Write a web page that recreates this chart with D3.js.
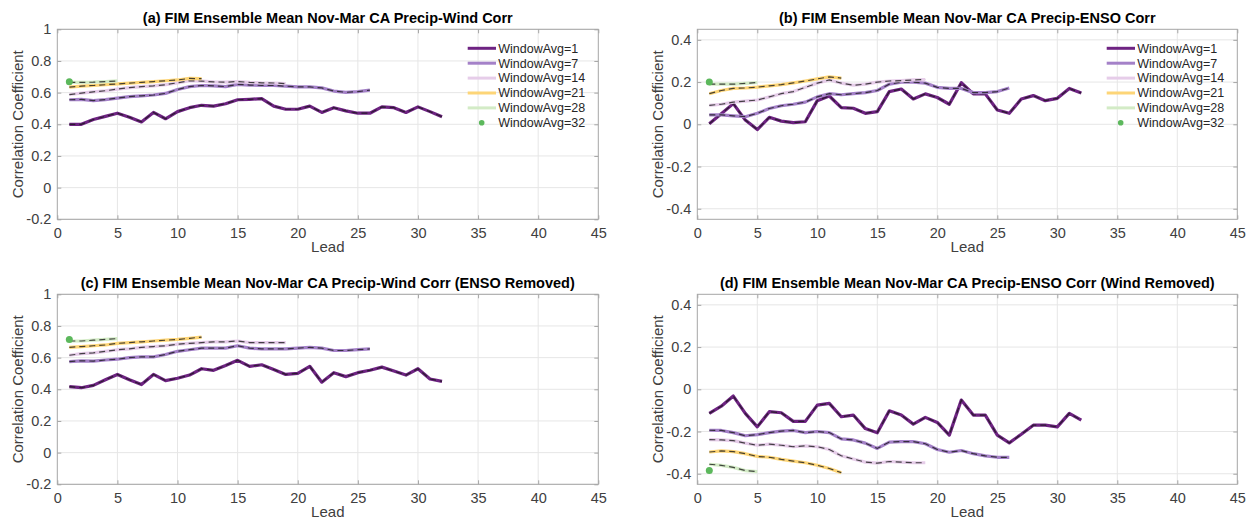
<!DOCTYPE html>
<html>
<head>
<meta charset="utf-8">
<script src="https://cdn.jsdelivr.net/npm/d3@7"></script>
<style>
  body { margin: 0; background: #fff; }
  svg { display: block; font-family: "Liberation Sans", Arial, sans-serif; }
</style>
</head>
<body>
<svg id="chart" width="1255" height="521"></svg>
<script>
// window lengths shown in the legend
var windows = [1, 7, 14, 21, 28, 32];
var windowColors = ["#6e2382", "#a481c8", "#e6cde9", "#fdd577", "#d3ebc6", "#5cb85c"];

var xTicks = [0, 5, 10, 15, 20, 25, 30, 35, 40, 45];
var yTicksWide = [-0.2, 0, 0.2, 0.4, 0.6, 0.8, 1];
var yTicksNarrow = [-0.4, -0.2, 0, 0.2, 0.4];

// (a) precip-wind corr, values by lead 1..n
var aW1 = [0.40, 0.40, 0.43, 0.45, 0.47, 0.445, 0.415, 0.475, 0.435, 0.48, 0.505, 0.52, 0.515, 0.53, 0.555, 0.558, 0.562, 0.515, 0.495, 0.495, 0.515, 0.475, 0.505, 0.485, 0.47, 0.47, 0.51, 0.505, 0.475, 0.51, 0.48, 0.448];
var aW7 = [0.555, 0.557, 0.55, 0.556, 0.565, 0.575, 0.58, 0.585, 0.595, 0.62, 0.638, 0.645, 0.643, 0.638, 0.652, 0.648, 0.646, 0.645, 0.641, 0.636, 0.636, 0.63, 0.61, 0.602, 0.606, 0.616];
var aW14 = [0.588, 0.597, 0.605, 0.612, 0.622, 0.632, 0.638, 0.643, 0.65, 0.662, 0.675, 0.673, 0.668, 0.666, 0.67, 0.665, 0.662, 0.661, 0.657];
var aW21 = [0.635, 0.641, 0.645, 0.65, 0.655, 0.66, 0.665, 0.67, 0.675, 0.68, 0.69, 0.688];
var aW28 = [0.665, 0.665, 0.666, 0.67, 0.674];
var aW32 = [0.669];

// (b) precip-ENSO corr
var bW1 = [0.003, 0.05, 0.098, 0.02, -0.025, 0.033, 0.015, 0.008, 0.012, 0.112, 0.134, 0.079, 0.076, 0.052, 0.06, 0.155, 0.167, 0.12, 0.144, 0.127, 0.095, 0.197, 0.144, 0.144, 0.068, 0.052, 0.12, 0.136, 0.112, 0.123, 0.17, 0.148];
var bW7 = [0.045, 0.045, 0.04, 0.036, 0.052, 0.075, 0.088, 0.095, 0.105, 0.13, 0.145, 0.14, 0.145, 0.15, 0.16, 0.19, 0.2, 0.2, 0.195, 0.175, 0.17, 0.17, 0.15, 0.15, 0.155, 0.172];
var bW14 = [0.09, 0.095, 0.105, 0.11, 0.115, 0.13, 0.145, 0.155, 0.175, 0.195, 0.21, 0.195, 0.185, 0.19, 0.2, 0.205, 0.207, 0.21, 0.212];
var bW21 = [0.145, 0.16, 0.17, 0.172, 0.176, 0.182, 0.188, 0.196, 0.205, 0.215, 0.225, 0.219];
var bW28 = [0.19, 0.19, 0.19, 0.194, 0.198];
var bW32 = [0.2];

// (c) precip-wind corr, ENSO removed
var cW1 = [0.417, 0.41, 0.425, 0.46, 0.494, 0.46, 0.43, 0.494, 0.455, 0.47, 0.49, 0.53, 0.52, 0.55, 0.583, 0.545, 0.555, 0.525, 0.494, 0.5, 0.545, 0.445, 0.505, 0.48, 0.505, 0.52, 0.54, 0.515, 0.49, 0.53, 0.465, 0.45];
var cW7 = [0.575, 0.58, 0.578, 0.585, 0.59, 0.6, 0.605, 0.605, 0.62, 0.64, 0.65, 0.66, 0.66, 0.66, 0.675, 0.66, 0.655, 0.655, 0.655, 0.66, 0.665, 0.66, 0.645, 0.645, 0.65, 0.655];
var cW14 = [0.615, 0.625, 0.63, 0.64, 0.65, 0.655, 0.665, 0.67, 0.675, 0.685, 0.69, 0.695, 0.7, 0.7, 0.705, 0.695, 0.695, 0.695, 0.695];
var cW21 = [0.665, 0.67, 0.675, 0.68, 0.69, 0.695, 0.7, 0.705, 0.71, 0.715, 0.722, 0.73];
var cW28 = [0.705, 0.705, 0.71, 0.715, 0.72];
var cW32 = [0.715];

// (d) precip-ENSO corr, wind removed
var dW1 = [-0.114, -0.08, -0.032, -0.114, -0.178, -0.106, -0.111, -0.152, -0.152, -0.075, -0.067, -0.13, -0.122, -0.186, -0.206, -0.102, -0.122, -0.165, -0.133, -0.157, -0.217, -0.051, -0.122, -0.122, -0.217, -0.254, -0.213, -0.17, -0.17, -0.178, -0.114, -0.146];
var dW7 = [-0.194, -0.195, -0.205, -0.22, -0.215, -0.205, -0.198, -0.195, -0.205, -0.2, -0.205, -0.235, -0.24, -0.255, -0.28, -0.25, -0.248, -0.248, -0.258, -0.285, -0.298, -0.29, -0.305, -0.315, -0.322, -0.322];
var dW14 = [-0.238, -0.24, -0.243, -0.255, -0.265, -0.26, -0.265, -0.272, -0.268, -0.272, -0.285, -0.315, -0.33, -0.345, -0.35, -0.342, -0.345, -0.348, -0.348];
var dW21 = [-0.297, -0.292, -0.295, -0.305, -0.318, -0.322, -0.332, -0.34, -0.348, -0.36, -0.375, -0.395];
var dW28 = [-0.355, -0.36, -0.37, -0.385, -0.39];
var dW32 = [-0.385];

var panels = [
  { title: "(a) FIM Ensemble Mean Nov-Mar CA Precip-Wind Corr", series: [aW1, aW7, aW14, aW21, aW28, aW32],
    yDomain: [-0.2, 1], yTicks: yTicksWide, box: [57.3, 29.3, 598.3, 219.3], legend: true },
  { title: "(b) FIM Ensemble Mean Nov-Mar CA Precip-ENSO Corr", series: [bW1, bW7, bW14, bW21, bW28, bW32],
    yDomain: [-0.45, 0.45], yTicks: yTicksNarrow, box: [697.3, 29.3, 1237.3, 219.3], legend: true },
  { title: "(c) FIM Ensemble Mean Nov-Mar CA Precip-Wind Corr (ENSO Removed)", series: [cW1, cW7, cW14, cW21, cW28, cW32],
    yDomain: [-0.2, 1], yTicks: yTicksWide, box: [57.3, 294.3, 598.3, 484.3], legend: false },
  { title: "(d) FIM Ensemble Mean Nov-Mar CA Precip-ENSO Corr (Wind Removed)", series: [dW1, dW7, dW14, dW21, dW28, dW32],
    yDomain: [-0.45, 0.45], yTicks: yTicksNarrow, box: [697.3, 294.3, 1237.3, 484.3], legend: false }
];

var svg = d3.select("#chart");
var fmt = function(v) { return String(+v.toFixed(1)); };

panels.forEach(function(p) {
  var x0 = p.box[0], y0 = p.box[1], x1 = p.box[2], y1 = p.box[3];
  var x = d3.scaleLinear().domain([0, 45]).range([x0, x1]);
  var y = d3.scaleLinear().domain(p.yDomain).range([y1, y0]);
  var g = svg.append("g");

  // grid
  g.append("g").selectAll("line").data(xTicks.slice(1, -1)).join("line")
    .attr("x1", function(d) { return x(d); }).attr("x2", function(d) { return x(d); })
    .attr("y1", y0).attr("y2", y1)
    .attr("stroke", "#e6e6e6").attr("stroke-width", 1);
  g.append("g").selectAll("line").data(p.yTicks).join("line")
    .attr("x1", x0).attr("x2", x1)
    .attr("y1", function(d) { return y(d); }).attr("y2", function(d) { return y(d); })
    .attr("stroke", "#e6e6e6").attr("stroke-width", 1);

  // axes, ticks pointing inward like matlab
  var xAxis = d3.axisBottom(x).tickValues(xTicks).tickSize(-4).tickPadding(8).tickFormat(fmt);
  var yAxis = d3.axisLeft(y).tickValues(p.yTicks).tickSize(-4).tickPadding(6).tickFormat(fmt);
  var xa = g.append("g").attr("transform", "translate(0," + y1 + ")").call(xAxis);
  var ya = g.append("g").attr("transform", "translate(" + x0 + ",0)").call(yAxis);
  g.append("g").attr("transform", "translate(0," + y0 + ")")
    .call(d3.axisTop(x).tickValues(xTicks).tickSize(-4).tickFormat(""));
  g.append("g").attr("transform", "translate(" + x1 + ",0)")
    .call(d3.axisRight(y).tickValues(p.yTicks).tickSize(-4).tickFormat(""));
  g.selectAll(".domain").remove();
  g.selectAll(".tick line").attr("stroke", "#a6a6a6");
  [xa, ya].forEach(function(a) {
    a.selectAll("text").attr("fill", "#404040").style("font-size", "14.5px")
      .style("font-family", "Liberation Sans, Arial, sans-serif");
  });

  g.append("rect").attr("x", x0).attr("y", y0)
    .attr("width", x1 - x0).attr("height", y1 - y0)
    .attr("fill", "none").attr("stroke", "#a6a6a6").attr("stroke-width", 1);

  // series
  var line = d3.line()
    .x(function(d, i) { return x(i + 1); })
    .y(function(d) { return y(d); });

  p.series.forEach(function(vals, k) {
    if (vals.length > 1) {
      g.append("path").datum(vals)
        .attr("d", line).attr("fill", "none")
        .attr("stroke", windowColors[k]).attr("stroke-width", 3.2)
        .attr("stroke-linejoin", "round");
      g.append("path").datum(vals)
        .attr("d", line).attr("fill", "none")
        .attr("stroke", "#1a1a1a").attr("stroke-width", 1.2)
        .attr("stroke-dasharray", "6,4").attr("stroke-opacity", 0.8);
    } else {
      g.append("circle").attr("cx", x(1)).attr("cy", y(vals[0]))
        .attr("r", 3.5).attr("fill", windowColors[k]);
    }
  });

  // title and labels
  g.append("text").attr("x", (x0 + x1) / 2).attr("y", y0 - 6)
    .attr("text-anchor", "middle").attr("font-weight", "bold")
    .attr("font-size", 14.5).attr("fill", "#000").text(p.title);
  g.append("text").attr("x", (x0 + x1) / 2).attr("y", y1 + 33)
    .attr("text-anchor", "middle").attr("font-size", 15).attr("fill", "#404040").text("Lead");
  g.append("text")
    .attr("transform", "translate(" + (x0 - 40) + "," + ((y0 + y1) / 2) + ") rotate(-90)")
    .attr("dy", "0.35em")
    .attr("text-anchor", "middle").attr("font-size", 15).attr("fill", "#404040")
    .text("Correlation Coefficient");

  if (p.legend) {
    var lg = g.append("g").attr("transform", "translate(" + (x1 - 130.6) + "," + (y0 + 19) + ")");
    windows.forEach(function(w, k) {
      var row = lg.append("g").attr("transform", "translate(0," + (k * 14.9) + ")");
      if (k < windows.length - 1) {
        row.append("line").attr("x1", 0).attr("x2", 28.3)
          .attr("stroke", windowColors[k]).attr("stroke-width", 3);
      } else {
        row.append("circle").attr("cx", 14).attr("r", 2.8).attr("fill", windowColors[k]);
      }
      row.append("text").attr("x", 30.5).attr("dy", "0.35em")
        .attr("font-size", 12.5).attr("fill", "#262626").text("WindowAvg=" + w);
    });
  }
});
</script>
</body>
</html>
